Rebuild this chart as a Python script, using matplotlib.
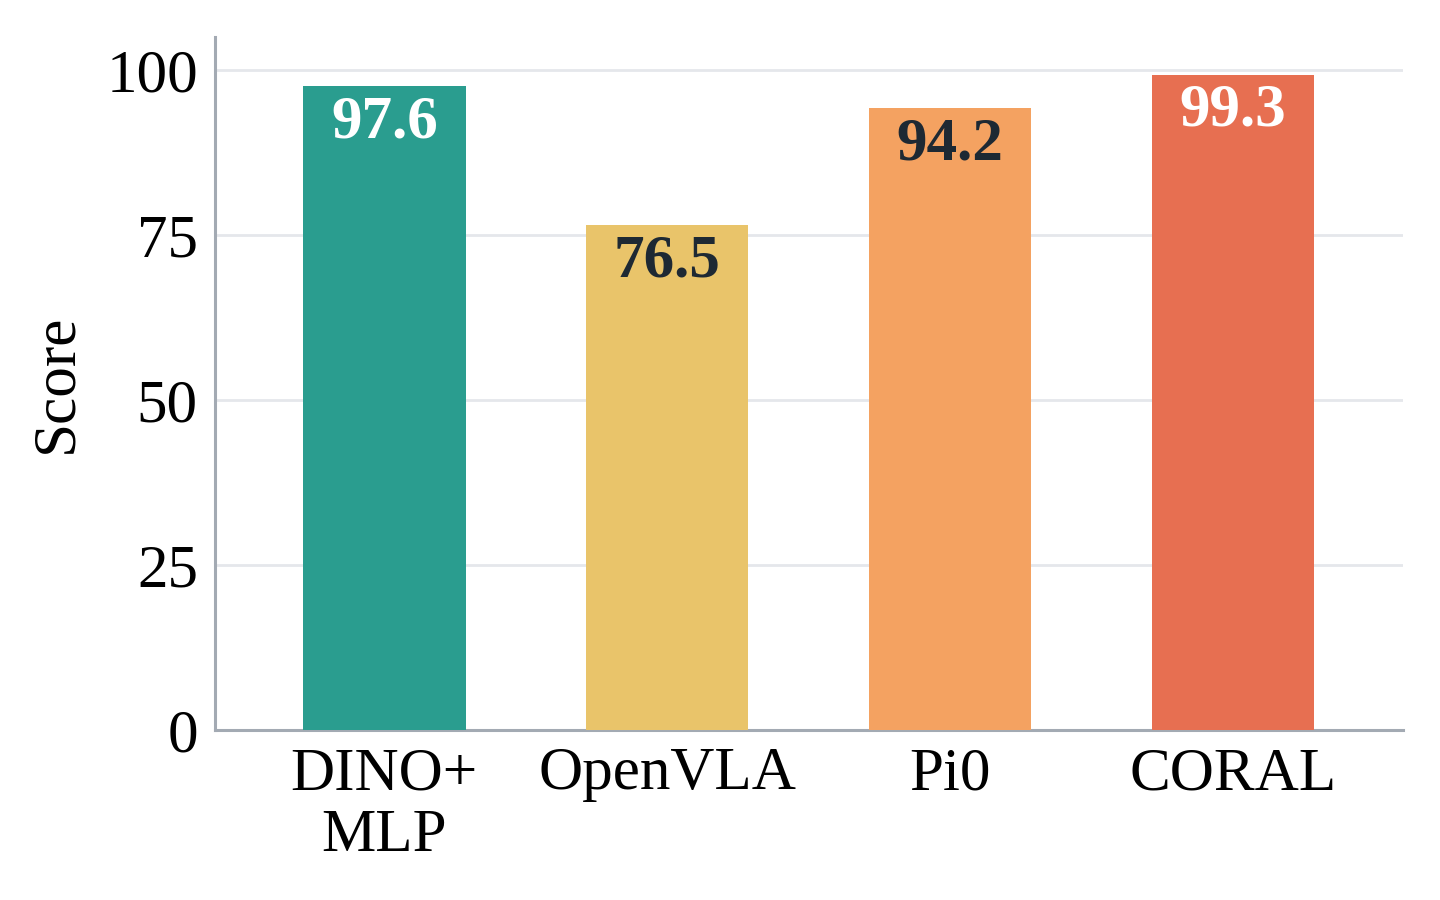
import matplotlib
matplotlib.use("Agg")
import matplotlib.pyplot as plt

# data
methods = ["DINO+\nMLP", "OpenVLA", "Pi0", "CORAL"]
scores = [97.6, 76.5, 94.2, 99.3]
bar_colors = ["#2a9d8f", "#e9c46a", "#f4a261", "#e76f51"]
label_colors = ["white", "#1e2933", "#1e2933", "white"]
yticks = [0, 25, 50, 75, 100]

plt.rcParams["font.family"] = ["Liberation Serif", "DejaVu Serif"]

fig = plt.figure(figsize=(7.2, 4.5), dpi=200)
ax = fig.add_axes([0.149, 0.189, 0.825, 0.770])

x = range(len(methods))
bars = ax.bar(x, scores, width=0.575, color=bar_colors, zorder=3)

for b, val, c in zip(bars, scores, label_colors):
    ax.annotate(f"{val:.1f}",
                xy=(b.get_x() + b.get_width() / 2, b.get_height()),
                xytext=(0, -3), textcoords="offset points",
                ha="center", va="top", fontsize=22, fontweight="bold",
                color=c, zorder=4)

ax.set_xlim(-0.6, 3.6)
ax.set_ylim(0, 105)
ax.set_xticks(list(x))
ax.set_xticklabels(methods, fontsize=22, linespacing=1.15)
ax.set_yticks(yticks)
ax.set_yticklabels([str(t) for t in yticks], fontsize=22)
ax.tick_params(axis="both", length=0, pad=6)
ax.set_ylabel("Score", fontsize=22, labelpad=8)

ax.grid(axis="y", color="#e5e7eb", linewidth=1.0, zorder=0)
ax.set_axisbelow(True)
for side in ["top", "right"]:
    ax.spines[side].set_visible(False)
for side in ["left", "bottom"]:
    ax.spines[side].set_color("#a3aab3")
    ax.spines[side].set_linewidth(1.1)

fig.savefig("out.png", dpi=200)
